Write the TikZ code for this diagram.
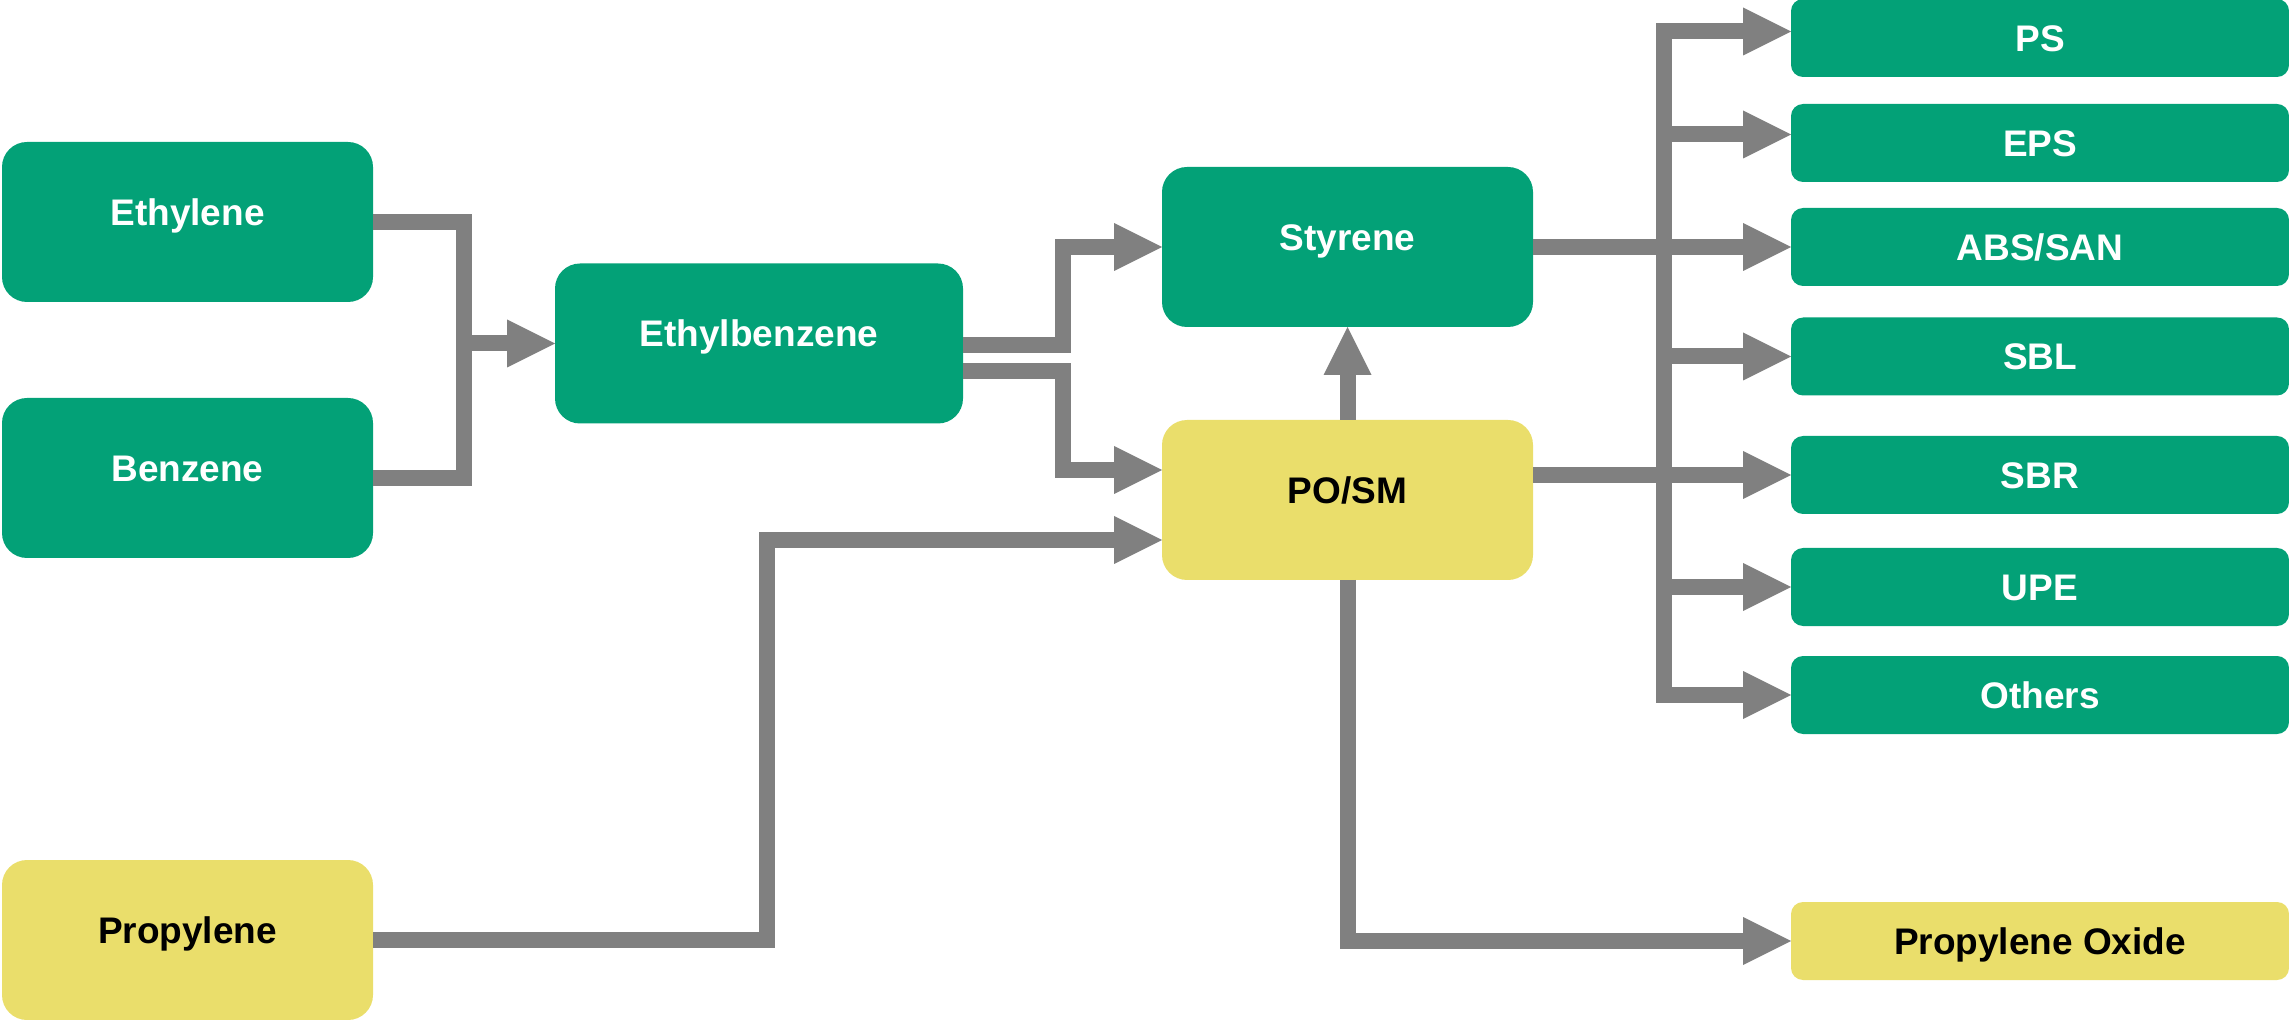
\documentclass[tikz,border=0pt]{standalone}
\usepackage{fontspec}
\setmainfont{Liberation Sans}
\usetikzlibrary{arrows.meta}

\definecolor{boxgreen}{RGB}{3,161,119}
\definecolor{boxyellow}{RGB}{234,222,107}
\definecolor{flowgray}{RGB}{128,128,128}

\tikzset{every picture/.style={line width=0.75pt}}
\tikzset{
	boxfont/.style={font=\fontsize{18.5}{22}\selectfont\bfseries, text height=13.25pt},
	bigbox/.style={boxfont, rounded corners=12.5pt, minimum width=185.5pt, minimum height=80pt, inner sep=0pt, outer sep=0pt, text depth=10pt},
	greenbox/.style={bigbox, fill=boxgreen, text=white},
	yellowbox/.style={bigbox, fill=boxyellow, text=black},
	endbox/.style={boxfont, rounded corners=6pt, minimum width=249pt, minimum height=39pt, inner sep=0pt, outer sep=0pt, text depth=0pt, fill=boxgreen, text=white},
	flow/.style={draw=flowgray, line width=8pt},
	flowarrow/.style={flow, -{Triangle[length=24pt,width=24pt,line width=0pt]}},
}

\begin{document}
\begin{tikzpicture}[x=0.5pt,y=0.5pt,yscale=-1,xscale=1]
	\useasboundingbox (0,0) rectangle (2289,1020);
	
	%Shape: Rounded Rect -- feedstocks
	\node [greenbox] (eth) at (187.5,222) {Ethylene};
	\node [greenbox] (benz) at (187.5,478) {Benzene};
	\node [yellowbox] (prop) at (187.5,940) {Propylene};
	%Shape: Rounded Rect -- intermediates
	\node [greenbox, minimum width=204pt] (ebz) at (759,343.5) {Ethylbenzene};
	\node [greenbox] (sty) at (1347.5,247) {Styrene};
	\node [yellowbox] (posm) at (1347.5,500) {PO/SM};
	%Shape: Rounded Rect -- products
	\node [endbox] (ps) at (2040,38) {PS};
	\node [endbox] (eps) at (2040,143) {EPS};
	\node [endbox] (abs) at (2040,247) {ABS/SAN};
	\node [endbox] (sbl) at (2040,356.5) {SBL};
	\node [endbox] (sbr) at (2040,475) {SBR};
	\node [endbox] (upe) at (2040,587) {UPE};
	\node [endbox] (others) at (2040,695) {Others};
	\node [endbox, fill=boxyellow, text=black] (po) at (2040,941) {Propylene Oxide};
	
	% yscale=-1 flips yshift: negative values move up
	\coordinate (jn) at (464,343.5);
	\coordinate (bus) at (1664,0);
	\coordinate (pstip) at ([yshift=-3.25pt]ps.west);
	\coordinate (epstip) at ([yshift=-4.25pt]eps.west);
	
	%Straight Lines -- ethylene + benzene
	\draw [flow] (eth.east) -| (jn) |- (benz.east);
	\draw [flowarrow] (jn) -- (ebz.west);
	%Straight Lines -- ethylbenzene
	\draw [flowarrow] ([yshift=0.75pt]ebz.east) -- ++(100,0) |- (sty.west);
	\draw [flowarrow] ([yshift=13.75pt]ebz.east) -- ++(100,0) |- ([yshift=-15pt]posm.west);
	%Straight Lines -- propylene
	\draw [flowarrow] (prop.east) -- ++(394,0) |- ([yshift=20pt]posm.west);
	%Straight Lines -- po/sm
	\draw [flowarrow] (posm.north) -- (sty.south);
	\draw [flowarrow] (posm.south) |- (po.west);
	
	%Straight Lines -- distribution bus
	\draw [flow, line cap=rect] (pstip -| bus) -- (others.west -| bus);
	\draw [flowarrow] (sty.east) -- (abs.west);
	\draw [flowarrow] ([yshift=-12.5pt]posm.east) -- (sbr.west);
	\draw [flowarrow] (pstip -| bus) -- (pstip);
	\draw [flowarrow] (epstip -| bus) -- (epstip);
	\foreach \n in {sbl,upe,others}
		\draw [flowarrow] (\n.west -| bus) -- (\n.west);
	
\end{tikzpicture}
\end{document}
